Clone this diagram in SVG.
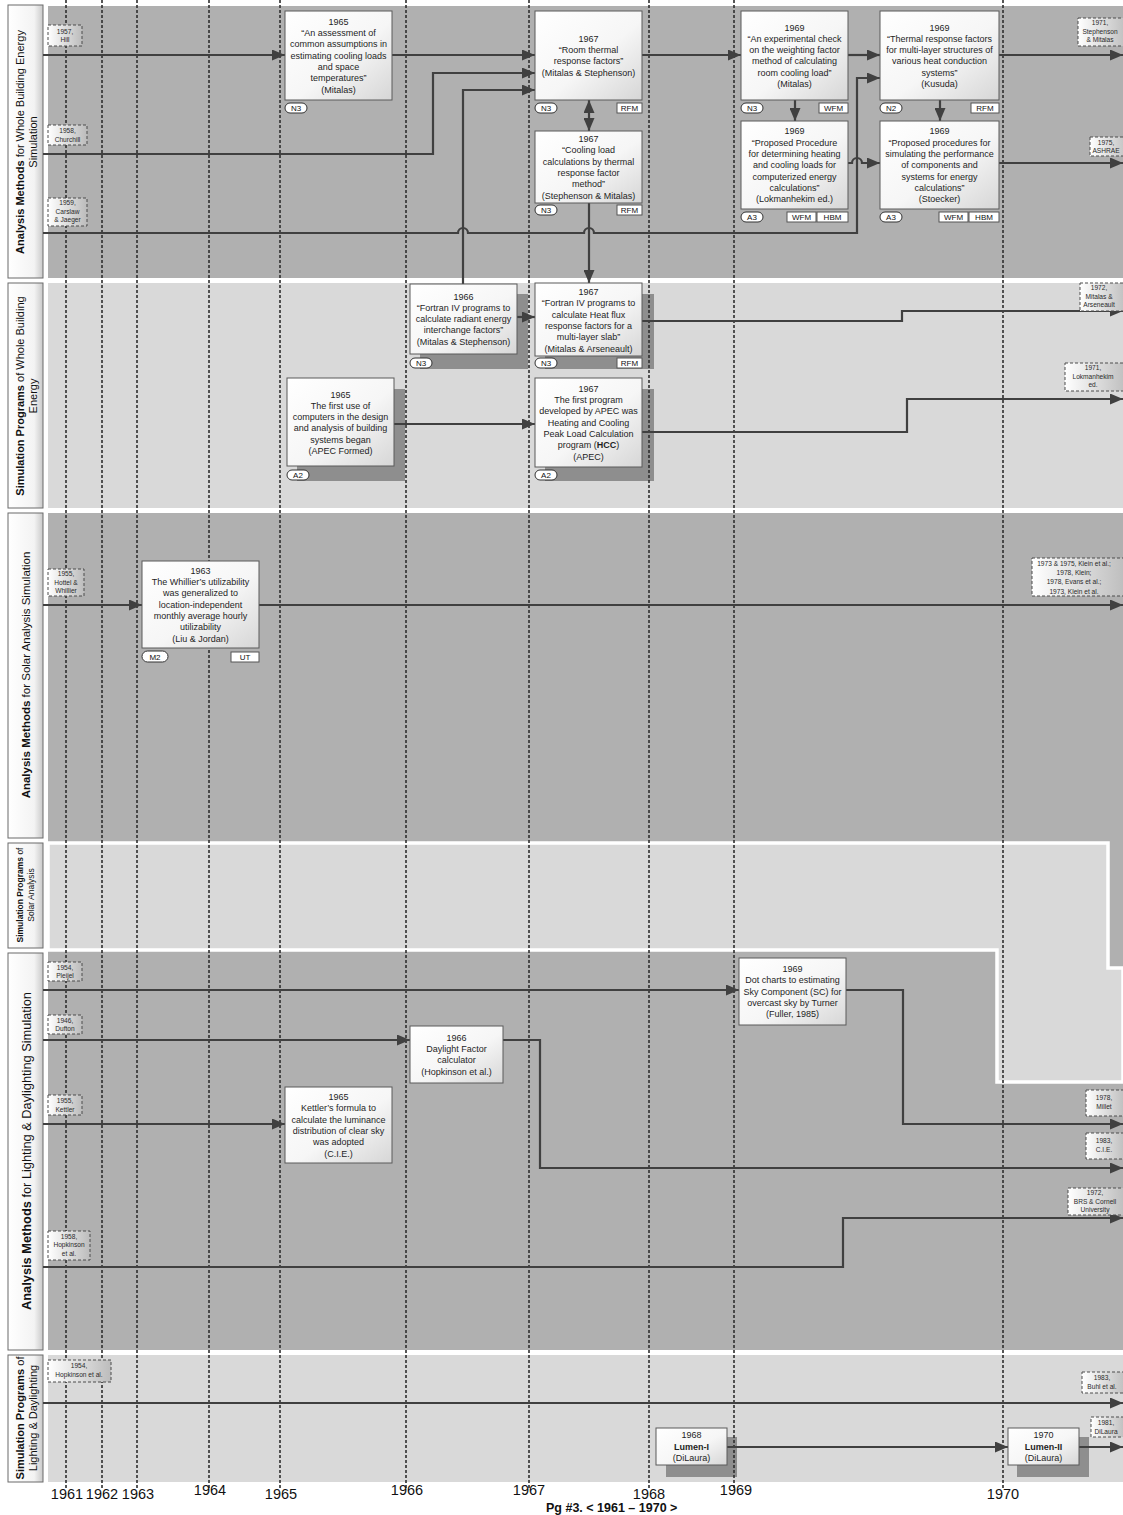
<svg xmlns="http://www.w3.org/2000/svg" width="1123" height="1515" viewBox="0 0 1123 1515">
<defs>
<linearGradient id="gNode" x1="0" y1="0" x2="1" y2="1"><stop offset="0" stop-color="#ffffff"/><stop offset="0.55" stop-color="#f6f6f6"/><stop offset="1" stop-color="#d6d6d6"/></linearGradient>
<linearGradient id="gRef" x1="0" y1="0" x2="1" y2="0"><stop offset="0" stop-color="#ffffff"/><stop offset="1" stop-color="#bcbcbc"/></linearGradient>
<linearGradient id="gLab" x1="0" y1="0" x2="1" y2="0"><stop offset="0" stop-color="#ffffff"/><stop offset="0.75" stop-color="#f3f3f3"/><stop offset="1" stop-color="#c9c9c9"/></linearGradient>
<marker id="ah" viewBox="0 0 13 11" refX="13" refY="5.5" markerWidth="13" markerHeight="11" markerUnits="userSpaceOnUse" orient="auto-start-reverse"><path d="M0,0 L13,5.5 L0,11 z" fill="#404040"/></marker>
<style>
.dark{fill:#b0b0b0}
.light{fill:#d9d9d9}
.lab{fill:url(#gLab);stroke:#6b6b6b;stroke-width:1}
.grid{stroke:#2e2e2e;stroke-width:1.6;stroke-dasharray:3 2;fill:none}
.conn{stroke:#404040;stroke-width:2.2;fill:none}
.arr{marker-end:url(#ah)}
.box{fill:url(#gNode);stroke:#5a5a5a;stroke-width:1}
.shadow{fill:#8e8e8e}
.t{font-family:"Liberation Sans",Arial,sans-serif;font-size:9px;fill:#1e1e1e;text-anchor:middle}
.ref{fill:url(#gRef);stroke:#4d4d4d;stroke-width:1;stroke-dasharray:3 2}
.rt{font-family:"Liberation Sans",Arial,sans-serif;font-size:6.6px;fill:#2a2a2a;text-anchor:middle}
.pill{fill:#fff;stroke:#333;stroke-width:1}
.tag{fill:#fff;stroke:#555;stroke-width:1}
.bt{font-family:"Liberation Sans",Arial,sans-serif;font-size:8px;fill:#111;text-anchor:middle}
.ll{font-family:"Liberation Sans",Arial,sans-serif;font-size:11px;fill:#111;text-anchor:middle}
.yr{font-family:"Liberation Sans",Arial,sans-serif;font-size:14.5px;fill:#111;text-anchor:middle}
.b{font-weight:bold}
</style>
</defs>

<g id="lanes">
<rect class="dark" x="48" y="6" width="1075" height="272"/>
<rect class="light" x="48" y="283" width="1075" height="225"/>
<rect class="dark" x="48" y="513" width="1075" height="455"/>
<rect class="dark" x="48" y="953" width="1075" height="397"/>
<path class="light" d="M48,843 H1108 V968 H1123 V1082 H997 V950 H48 Z" stroke="#ffffff" stroke-width="3.5"/>
<rect class="light" x="48" y="1355" width="1075" height="127"/>
</g>

<g id="lane-labels">
<rect class="lab" x="8" y="5" width="35" height="273"/>
<text class="ll" transform="translate(24,142) rotate(-90)"><tspan class="b">Analysis Methods</tspan> for Whole Building Energy<tspan x="0" dy="13">Simulation</tspan></text>
<rect class="lab" x="8" y="283" width="35" height="225"/>
<text class="ll" transform="translate(24,396) rotate(-90)"><tspan class="b">Simulation Programs</tspan> of Whole Building<tspan x="0" dy="13">Energy</tspan></text>
<rect class="lab" x="8" y="513" width="35" height="325"/>
<text class="ll" style="font-size:11.5px" transform="translate(30,675) rotate(-90)"><tspan class="b">Analysis Methods</tspan> for Solar Analysis Simulation</text>
<rect class="lab" x="8" y="843" width="35" height="105"/>
<text class="ll" style="font-size:8.5px" transform="translate(23,895) rotate(-90)"><tspan class="b">Simulation Programs</tspan> of<tspan x="0" dy="11">Solar Analysis</tspan></text>
<rect class="lab" x="8" y="953" width="35" height="397"/>
<text class="ll" style="font-size:12.8px" transform="translate(31,1151) rotate(-90)"><tspan class="b">Analysis Methods</tspan> for Lighting &amp; Daylighting Simulation</text>
<rect class="lab" x="8" y="1355" width="35" height="127"/>
<text class="ll" transform="translate(24,1418) rotate(-90)"><tspan class="b">Simulation Programs</tspan> of<tspan x="0" dy="13">Lighting &amp; Daylighting</tspan></text>
</g>

<g id="shadows">
<rect class="shadow" x="420" y="294" width="108" height="75"/>
<rect class="shadow" x="545" y="294" width="109" height="75"/>
<rect class="shadow" x="297" y="389" width="108" height="92"/>
<rect class="shadow" x="545" y="389" width="109" height="92"/>
<rect class="shadow" x="666" y="1437" width="71" height="40"/>
<rect class="shadow" x="1017" y="1437" width="72" height="40"/>
</g>

<g id="grid">
<path class="grid" d="M66,0 V1488 M102,0 V1488 M137,0 V1488 M209,0 V1488 M280,0 V1488 M406,0 V1488 M529,0 V1488 M649,0 V1488 M734,0 V1488 M1003,0 V1488"/>
</g>

<g id="connectors">
<path class="conn arr" d="M43,55 H285"/>
<path class="conn arr" d="M392,55 H535"/>
<path class="conn arr" d="M642,55 H741"/>
<path class="conn arr" d="M848,55 H880"/>
<path class="conn arr" d="M999,55 H1123"/>
<path class="conn arr" d="M43,154 H433 V73 H535"/>
<path class="conn arr" d="M463,284 V90 H535"/>
<path class="conn arr" d="M43,233 H458 A5,5 0 0 1 468,233 H584 A5,5 0 0 1 594,233 H857 V78 H880"/>
<path class="conn arr" d="M589,203 V283"/>
<path class="conn arr" d="M589,100 V131" marker-start="url(#ah)"/>
<path class="conn arr" d="M795,100 V121"/>
<path class="conn arr" d="M940,100 V121"/>
<path class="conn arr" d="M848,163 H852 A5,5 0 0 1 862,163 H880"/>
<path class="conn arr" d="M999,163 H1123"/>
<path class="conn arr" d="M517,317 H535"/>
<path class="conn arr" d="M642,321 H902 V311 H1123"/>
<path class="conn arr" d="M394,424 H535"/>
<path class="conn arr" d="M642,432 H907 V399 H1123"/>
<path class="conn arr" d="M43,605 H142"/>
<path class="conn arr" d="M259,605 H1123"/>
<path class="conn arr" d="M43,990 H739"/>
<path class="conn arr" d="M846,990 H903 V1124 H1123"/>
<path class="conn arr" d="M43,1040 H410"/>
<path class="conn arr" d="M503,1040 H540 V1168 H1123"/>
<path class="conn arr" d="M43,1124 H285"/>
<path class="conn arr" d="M43,1267 H843 V1218 H1123"/>
<path class="conn arr" d="M43,1403 H1123"/>
<path class="conn arr" d="M727,1447 H1008"/>
<path class="conn arr" d="M1079,1447 H1123"/>
</g>

<g id="n1965-assessment">
<rect class="box" x="285" y="11" width="107" height="89"/>
<text class="t" x="338.5" y="24.8">1965<tspan x="338.5" dy="11.3">“An assessment of</tspan><tspan x="338.5" dy="11.3">common assumptions in</tspan><tspan x="338.5" dy="11.3">estimating cooling loads</tspan><tspan x="338.5" dy="11.3">and space</tspan><tspan x="338.5" dy="11.3">temperatures”</tspan><tspan x="338.5" dy="11.3">(Mitalas)</tspan></text>
<rect class="pill" x="285" y="103" width="22" height="10" rx="5"/><text class="bt" x="296" y="111">N3</text>
</g>

<g id="n1967-room">
<rect class="box" x="535" y="11" width="107" height="89"/>
<text class="t" x="588.5" y="41.8">1967<tspan x="588.5" dy="11.3">“Room thermal</tspan><tspan x="588.5" dy="11.3">response factors”</tspan><tspan x="588.5" dy="11.3">(Mitalas &amp; Stephenson)</tspan></text>
<rect class="pill" x="535" y="103" width="22" height="10" rx="5"/><text class="bt" x="546" y="111">N3</text>
<rect class="tag" x="617" y="103" width="25" height="10"/><text class="bt" x="629.5" y="111">RFM</text>
</g>

<g id="n1967-cooling">
<rect class="box" x="535" y="131" width="107" height="72"/>
<text class="t" x="588.5" y="142">1967<tspan x="588.5" dy="11.3">“Cooling load</tspan><tspan x="588.5" dy="11.3">calculations by thermal</tspan><tspan x="588.5" dy="11.3">response factor</tspan><tspan x="588.5" dy="11.3">method”</tspan><tspan x="588.5" dy="11.3">(Stephenson &amp; Mitalas)</tspan></text>
<rect class="pill" x="535" y="205" width="22" height="10" rx="5"/><text class="bt" x="546" y="213">N3</text>
<rect class="tag" x="617" y="205" width="25" height="10"/><text class="bt" x="629.5" y="213">RFM</text>
</g>

<g id="n1969-check">
<rect class="box" x="741" y="11" width="107" height="89"/>
<text class="t" x="794.5" y="30.5">1969<tspan x="794.5" dy="11.3">“An experimental check</tspan><tspan x="794.5" dy="11.3">on the weighting factor</tspan><tspan x="794.5" dy="11.3">method of calculating</tspan><tspan x="794.5" dy="11.3">room cooling load”</tspan><tspan x="794.5" dy="11.3">(Mitalas)</tspan></text>
<rect class="pill" x="741" y="103" width="22" height="10" rx="5"/><text class="bt" x="752" y="111">N3</text>
<rect class="tag" x="819" y="103" width="29" height="10"/><text class="bt" x="833.5" y="111">WFM</text>
</g>

<g id="n1969-procedure">
<rect class="box" x="741" y="121" width="107" height="88"/>
<text class="t" x="794.5" y="134.3">1969<tspan x="794.5" dy="11.3">“Proposed Procedure</tspan><tspan x="794.5" dy="11.3">for determining heating</tspan><tspan x="794.5" dy="11.3">and cooling loads for</tspan><tspan x="794.5" dy="11.3">computerized energy</tspan><tspan x="794.5" dy="11.3">calculations”</tspan><tspan x="794.5" dy="11.3">(Lokmanhekim ed.)</tspan></text>
<rect class="pill" x="741" y="212" width="22" height="10" rx="5"/><text class="bt" x="752" y="220">A3</text>
<rect class="tag" x="787" y="212" width="29" height="10"/><text class="bt" x="801.5" y="220">WFM</text>
<rect class="tag" x="817" y="212" width="31" height="10"/><text class="bt" x="832.5" y="220">HBM</text>
</g>

<g id="n1969-kusuda">
<rect class="box" x="880" y="11" width="119" height="89"/>
<text class="t" x="939.5" y="30.5">1969<tspan x="939.5" dy="11.3">“Thermal response factors</tspan><tspan x="939.5" dy="11.3">for multi-layer structures of</tspan><tspan x="939.5" dy="11.3">various heat conduction</tspan><tspan x="939.5" dy="11.3">systems”</tspan><tspan x="939.5" dy="11.3">(Kusuda)</tspan></text>
<rect class="pill" x="880" y="103" width="22" height="10" rx="5"/><text class="bt" x="891" y="111">N2</text>
<rect class="tag" x="971" y="103" width="28" height="10"/><text class="bt" x="985" y="111">RFM</text>
</g>

<g id="n1969-stoecker">
<rect class="box" x="880" y="121" width="119" height="88"/>
<text class="t" x="939.5" y="134.3">1969<tspan x="939.5" dy="11.3">“Proposed procedures for</tspan><tspan x="939.5" dy="11.3">simulating the performance</tspan><tspan x="939.5" dy="11.3">of components and</tspan><tspan x="939.5" dy="11.3">systems for energy</tspan><tspan x="939.5" dy="11.3">calculations”</tspan><tspan x="939.5" dy="11.3">(Stoecker)</tspan></text>
<rect class="pill" x="880" y="212" width="22" height="10" rx="5"/><text class="bt" x="891" y="220">A3</text>
<rect class="tag" x="939" y="212" width="29" height="10"/><text class="bt" x="953.5" y="220">WFM</text>
<rect class="tag" x="969" y="212" width="30" height="10"/><text class="bt" x="984" y="220">HBM</text>
</g>

<g id="n1966-fortran-radiant">
<rect class="box" x="410" y="284" width="107" height="70"/>
<text class="t" x="463.5" y="299.5">1966<tspan x="463.5" dy="11.3">“Fortran IV programs to</tspan><tspan x="463.5" dy="11.3">calculate radiant energy</tspan><tspan x="463.5" dy="11.3">interchange factors”</tspan><tspan x="463.5" dy="11.3">(Mitalas &amp; Stephenson)</tspan></text>
<rect class="pill" x="410" y="358" width="22" height="10" rx="5"/><text class="bt" x="421" y="366">N3</text>
</g>

<g id="n1967-fortran-heatflux">
<rect class="box" x="535" y="283" width="107" height="73"/>
<text class="t" x="588.5" y="295">1967<tspan x="588.5" dy="11.3">“Fortran IV programs to</tspan><tspan x="588.5" dy="11.3">calculate Heat flux</tspan><tspan x="588.5" dy="11.3">response factors for a</tspan><tspan x="588.5" dy="11.3">multi-layer slab”</tspan><tspan x="588.5" dy="11.3">(Mitalas &amp; Arseneault)</tspan></text>
<rect class="pill" x="535" y="358" width="22" height="10" rx="5"/><text class="bt" x="546" y="366">N3</text>
<rect class="tag" x="617" y="358" width="25" height="10"/><text class="bt" x="629.5" y="366">RFM</text>
</g>

<g id="n1965-first-use">
<rect class="box" x="287" y="378" width="107" height="88"/>
<text class="t" x="340.5" y="397.5">1965<tspan x="340.5" dy="11.3">The first use of</tspan><tspan x="340.5" dy="11.3">computers in the design</tspan><tspan x="340.5" dy="11.3">and analysis of building</tspan><tspan x="340.5" dy="11.3">systems began</tspan><tspan x="340.5" dy="11.3">(APEC Formed)</tspan></text>
<rect class="pill" x="287" y="470" width="22" height="10" rx="5"/><text class="bt" x="298" y="478">A2</text>
</g>

<g id="n1967-apec-hcc">
<rect class="box" x="535" y="378" width="107" height="89"/>
<text class="t" x="588.5" y="391.8">1967<tspan x="588.5" dy="11.3">The first program</tspan><tspan x="588.5" dy="11.3">developed by APEC was</tspan><tspan x="588.5" dy="11.3">Heating and Cooling</tspan><tspan x="588.5" dy="11.3">Peak Load Calculation</tspan><tspan x="588.5" dy="11.3">program (<tspan class="b">HCC</tspan>)</tspan><tspan x="588.5" dy="11.3">(APEC)</tspan></text>
<rect class="pill" x="535" y="470" width="22" height="10" rx="5"/><text class="bt" x="546" y="478">A2</text>
</g>

<g id="n1963-utilizability">
<rect class="box" x="142" y="561" width="117" height="87"/>
<text class="t" x="200.5" y="573.8">1963<tspan x="200.5" dy="11.3">The Whillier’s utilizability</tspan><tspan x="200.5" dy="11.3">was generalized to</tspan><tspan x="200.5" dy="11.3">location-independent</tspan><tspan x="200.5" dy="11.3">monthly average hourly</tspan><tspan x="200.5" dy="11.3">utilizability</tspan><tspan x="200.5" dy="11.3">(Liu &amp; Jordan)</tspan></text>
<rect class="pill" x="142" y="651" width="26" height="11" rx="5.5"/><text class="bt" x="155" y="659.5">M2</text>
<rect class="tag" x="231" y="652" width="28" height="10"/><text class="bt" x="245" y="660">UT</text>
</g>

<g id="n1969-dot-charts">
<rect class="box" x="739" y="958" width="107" height="67"/>
<text class="t" x="792.5" y="972.1">1969<tspan x="792.5" dy="11.3">Dot charts to estimating</tspan><tspan x="792.5" dy="11.3">Sky Component (SC) for</tspan><tspan x="792.5" dy="11.3">overcast sky by Turner</tspan><tspan x="792.5" dy="11.3">(Fuller, 1985)</tspan></text>
</g>

<g id="n1966-daylight-factor">
<rect class="box" x="410" y="1026" width="93" height="57"/>
<text class="t" x="456.5" y="1040.8">1966<tspan x="456.5" dy="11.3">Daylight Factor</tspan><tspan x="456.5" dy="11.3">calculator</tspan><tspan x="456.5" dy="11.3">(Hopkinson et al.)</tspan></text>
</g>

<g id="n1965-kettler">
<rect class="box" x="285" y="1087" width="107" height="76"/>
<text class="t" x="338.5" y="1100">1965<tspan x="338.5" dy="11.3">Kettler’s formula to</tspan><tspan x="338.5" dy="11.3">calculate the luminance</tspan><tspan x="338.5" dy="11.3">distribution of clear sky</tspan><tspan x="338.5" dy="11.3">was adopted</tspan><tspan x="338.5" dy="11.3">(C.I.E.)</tspan></text>
</g>

<g id="n1968-lumen-1">
<rect class="box" x="656" y="1428" width="71" height="37"/>
<text class="t" x="691.5" y="1438.4">1968<tspan x="691.5" dy="11.3" class="b">Lumen-I</tspan><tspan x="691.5" dy="11.3">(DiLaura)</tspan></text>
</g>

<g id="n1970-lumen-2">
<rect class="box" x="1008" y="1428" width="71" height="37"/>
<text class="t" x="1043.5" y="1438.4">1970<tspan x="1043.5" dy="11.3" class="b">Lumen-II</tspan><tspan x="1043.5" dy="11.3">(DiLaura)</tspan></text>
</g>

<g id="refs">
<rect class="ref" x="48" y="25" width="34" height="21"/><text class="rt" x="65" y="33.5">1957,<tspan x="65" dy="8.5">Hill</tspan></text>
<rect class="ref" x="48" y="125" width="39" height="20"/><text class="rt" x="67.5" y="133">1958,<tspan x="67.5" dy="8.5">Churchill</tspan></text>
<rect class="ref" x="48" y="198" width="39" height="28"/><text class="rt" x="67.5" y="205">1959,<tspan x="67.5" dy="8.5">Carslaw</tspan><tspan x="67.5" dy="8.5">&amp; Jaeger</tspan></text>
<rect class="ref" x="1078" y="18" width="50" height="28"/><text class="rt" x="1100" y="25">1971,<tspan x="1100" dy="8.5">Stephenson</tspan><tspan x="1100" dy="8.5">&amp; Mitalas</tspan></text>
<rect class="ref" x="1090" y="137" width="40" height="19"/><text class="rt" x="1106" y="144.5">1975,<tspan x="1106" dy="8.5">ASHRAE</tspan></text>
<rect class="ref" x="1080" y="283" width="48" height="28"/><text class="rt" x="1099" y="290">1972,<tspan x="1099" dy="8.5">Mitalas &amp;</tspan><tspan x="1099" dy="8.5">Arseneault</tspan></text>
<rect class="ref" x="1065" y="363" width="63" height="28"/><text class="rt" x="1093" y="370">1971,<tspan x="1093" dy="8.5">Lokmanhekim</tspan><tspan x="1093" dy="8.5">ed.</tspan></text>
<rect class="ref" x="48" y="569" width="36" height="27"/><text class="rt" x="66" y="576">1955,<tspan x="66" dy="8.5">Hottel &amp;</tspan><tspan x="66" dy="8.5">Whillier</tspan></text>
<rect class="ref" x="1032" y="558" width="95" height="38"/><text class="rt" x="1074" y="566">1973 &amp; 1975, Klein et al.;<tspan x="1074" dy="9.2">1978, Klein;</tspan><tspan x="1074" dy="9.2">1978, Evans et al.;</tspan><tspan x="1074" dy="9.2">1973, Klein et al.</tspan></text>
<rect class="ref" x="48" y="962" width="34" height="19"/><text class="rt" x="65" y="969.5">1954,<tspan x="65" dy="8.5">Pleijel</tspan></text>
<rect class="ref" x="48" y="1015" width="34" height="19"/><text class="rt" x="65" y="1022.5">1946,<tspan x="65" dy="8.5">Dufton</tspan></text>
<rect class="ref" x="48" y="1095" width="34" height="20"/><text class="rt" x="65" y="1103">1955,<tspan x="65" dy="8.5">Kettler</tspan></text>
<rect class="ref" x="48" y="1231" width="42" height="29"/><text class="rt" x="69" y="1238.5">1958,<tspan x="69" dy="8.5">Hopkinson</tspan><tspan x="69" dy="8.5">et al.</tspan></text>
<rect class="ref" x="1086" y="1090" width="40" height="26"/><text class="rt" x="1104" y="1100">1978,<tspan x="1104" dy="9">Millet</tspan></text>
<rect class="ref" x="1086" y="1133" width="40" height="26"/><text class="rt" x="1104" y="1143">1983,<tspan x="1104" dy="9">C.I.E.</tspan></text>
<rect class="ref" x="1068" y="1188" width="58" height="27"/><text class="rt" x="1095" y="1195">1972,<tspan x="1095" dy="8.5">BRS &amp; Cornell</tspan><tspan x="1095" dy="8.5">University</tspan></text>
<rect class="ref" x="48" y="1360" width="63" height="22"/><text class="rt" x="79" y="1368">1954,<tspan x="79" dy="9">Hopkinson et al.</tspan></text>
<rect class="ref" x="1082" y="1372" width="45" height="21"/><text class="rt" x="1102" y="1380">1983,<tspan x="1102" dy="9">Buhl et al.</tspan></text>
<rect class="ref" x="1091" y="1417" width="35" height="20"/><text class="rt" x="1106" y="1425">1981,<tspan x="1106" dy="9">DiLaura</tspan></text>
</g>

<g id="axis">
<text class="yr" x="67" y="1499">1961</text>
<text class="yr" x="102" y="1499">1962</text>
<text class="yr" x="138" y="1499">1963</text>
<text class="yr" x="210" y="1495">1964</text>
<text class="yr" x="281" y="1499">1965</text>
<text class="yr" x="407" y="1495">1966</text>
<text class="yr" x="529" y="1495">1967</text>
<text class="yr" x="649" y="1499">1968</text>
<text class="yr" x="736" y="1495">1969</text>
<text class="yr" x="1003" y="1499">1970</text>
<text x="546" y="1512" font-family="Liberation Sans, Arial, sans-serif" font-size="12.5" font-weight="bold" fill="#111">Pg #3. &lt; 1961 – 1970 &gt;</text>
</g>
</svg>
